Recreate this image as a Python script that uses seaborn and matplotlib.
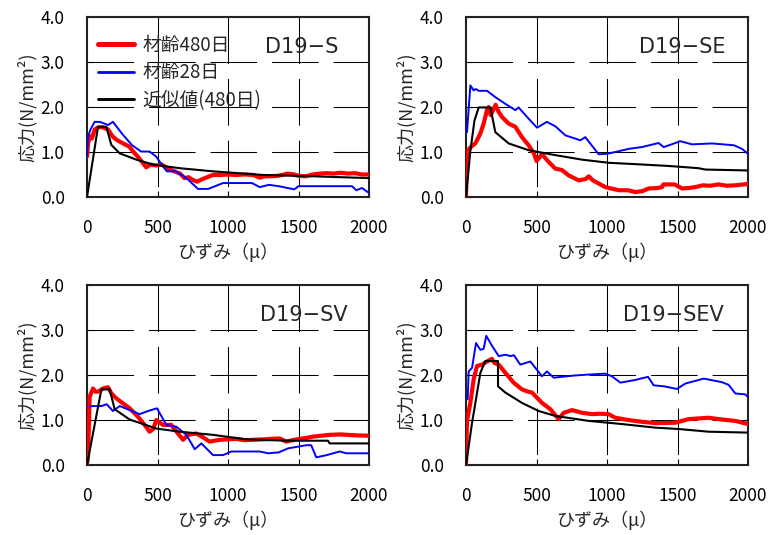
import matplotlib
matplotlib.use("Agg")
import matplotlib.pyplot as plt
import pandas as pd
import seaborn as sns

sns.set_theme(style="white")
plt.rcParams["font.family"] = ["Noto Sans CJK JP", "DejaVu Sans"]

# ---- strain (μ) / stress (N/mm²) series for each specimen ----
# D19-S
s_red_x = [0, 8, 20, 35, 55, 80, 110, 150, 180, 210, 250, 300, 330, 360, 390, 420, 450, 490, 530, 580,
           620, 660, 690, 720, 750, 780, 820, 860, 895, 950, 1000, 1060, 1120, 1180, 1225, 1260, 1300,
           1350, 1400, 1420, 1470, 1500, 1550, 1600, 1650, 1700, 1750, 1800, 1850, 1900, 1950, 2000]
s_red_y = [0.9, 1.2, 1.35, 1.3, 1.5, 1.55, 1.55, 1.5, 1.35, 1.27, 1.2, 1.12, 1.0, 0.9, 0.78, 0.66, 0.72,
           0.7, 0.72, 0.62, 0.57, 0.52, 0.42, 0.44, 0.38, 0.34, 0.4, 0.45, 0.49, 0.49, 0.5, 0.49, 0.5,
           0.49, 0.43, 0.46, 0.46, 0.47, 0.5, 0.52, 0.5, 0.47, 0.46, 0.5, 0.52, 0.53, 0.52, 0.54, 0.52,
           0.53, 0.5, 0.5]
s_blue_x = [0, 7, 25, 54, 90, 150, 184, 250, 320, 384, 444, 490, 530, 566, 630, 705, 787, 860, 965,
            1170, 1225, 1290, 1360, 1470, 1500, 1880, 1910, 1950, 2000]
s_blue_y = [0.9, 1.34, 1.5, 1.67, 1.67, 1.6, 1.67, 1.4, 1.15, 1.01, 1.01, 0.9, 0.72, 0.57, 0.57, 0.42,
            0.18, 0.18, 0.31, 0.31, 0.22, 0.27, 0.24, 0.17, 0.24, 0.24, 0.15, 0.2, 0.09]
s_black_x = [0, 78, 137, 172, 232, 350, 468, 657, 894, 1248, 1603, 2000]
s_black_y = [0, 1.56, 1.56, 1.16, 0.97, 0.83, 0.72, 0.64, 0.57, 0.49, 0.46, 0.42]

# D19-SE
se_red_x = [0, 7, 30, 66, 102, 125, 149, 161, 175, 195, 210, 230, 255, 303, 350, 397, 444, 480, 500,
            539, 586, 634, 680, 728, 799, 850, 870, 900, 988, 1083, 1150, 1201, 1250, 1296, 1360, 1390,
            1400, 1480, 1532, 1580, 1626, 1680, 1730, 1792, 1850, 1910, 2000]
se_red_y = [0, 1.0, 1.1, 1.19, 1.41, 1.63, 1.93, 2.0, 1.82, 1.95, 2.05, 1.9, 1.78, 1.63, 1.56, 1.33,
            1.15, 0.98, 0.8, 0.95, 0.78, 0.63, 0.6, 0.48, 0.37, 0.4, 0.46, 0.37, 0.22, 0.15, 0.15, 0.11,
            0.13, 0.19, 0.2, 0.22, 0.28, 0.28, 0.19, 0.2, 0.22, 0.26, 0.25, 0.28, 0.25, 0.26, 0.29]
se_blue_x = [7, 31, 54, 70, 90, 149, 208, 279, 350, 373, 444, 504, 574, 634, 705, 811, 846, 941, 1000,
             1059, 1154, 1248, 1366, 1402, 1440, 1520, 1603, 1745, 1900, 1957, 2000]
se_blue_y = [1.44, 2.48, 2.37, 2.4, 2.36, 2.36, 2.22, 2.07, 1.93, 1.99, 1.74, 1.54, 1.67, 1.57, 1.37,
             1.26, 1.33, 0.95, 0.96, 1.0, 1.07, 1.11, 1.2, 1.11, 1.15, 1.24, 1.17, 1.19, 1.15, 1.07, 0.96]
se_black_x = [0, 30, 60, 90, 173, 208, 303, 444, 634, 823, 1012, 1201, 1437, 1650, 1697, 2000]
se_black_y = [0, 1.0, 1.7, 1.99, 1.99, 1.44, 1.19, 1.04, 0.93, 0.83, 0.76, 0.73, 0.69, 0.64, 0.61, 0.59]

# D19-SV
sv_red_x = [0, 8, 19, 43, 60, 78, 113, 149, 173, 208, 255, 303, 362, 409, 444, 470, 492, 539, 598, 645,
            681, 716, 775, 820, 870, 941, 1000, 1060, 1120, 1177, 1250, 1300, 1366, 1414, 1485, 1550,
            1603, 1660, 1721, 1800, 1900, 2000]
sv_red_y = [0, 0.25, 1.52, 1.7, 1.63, 1.63, 1.7, 1.73, 1.59, 1.48, 1.37, 1.26, 1.07, 0.89, 0.74, 0.8,
            1.0, 0.89, 0.89, 0.7, 0.56, 0.67, 0.7, 0.62, 0.52, 0.56, 0.57, 0.58, 0.55, 0.56, 0.57, 0.58,
            0.59, 0.52, 0.57, 0.6, 0.63, 0.65, 0.67, 0.68, 0.66, 0.65]
sv_blue_x = [19, 43, 102, 140, 184, 232, 303, 374, 433, 496, 563, 634, 705, 764, 811, 894, 965, 1024,
             1225, 1284, 1360, 1426, 1556, 1590, 1626, 1700, 1792, 1840, 2000]
sv_blue_y = [1.3, 1.31, 1.31, 1.35, 1.2, 1.31, 1.22, 1.13, 1.2, 1.26, 0.89, 0.85, 0.67, 0.35, 0.48,
             0.22, 0.22, 0.3, 0.3, 0.26, 0.28, 0.37, 0.44, 0.44, 0.17, 0.22, 0.3, 0.26, 0.26]
sv_black_x = [0, 102, 161, 196, 303, 492, 657, 894, 1130, 1414, 1709, 1721, 2000]
sv_black_y = [0, 1.68, 1.68, 1.24, 1.01, 0.81, 0.74, 0.67, 0.57, 0.54, 0.54, 0.48, 0.48]

# D19-SEV
sev_red_x = [0, 7, 31, 54, 78, 113, 149, 184, 200, 232, 279, 338, 397, 440, 468, 539, 598, 657, 693,
             752, 823, 894, 950, 1012, 1059, 1150, 1248, 1343, 1485, 1579, 1721, 1816, 1910, 2000]
sev_red_y = [0, 0.98, 1.38, 1.9, 2.2, 2.23, 2.3, 2.36, 2.27, 2.23, 2.05, 1.83, 1.68, 1.63, 1.61, 1.38,
             1.24, 1.02, 1.16, 1.22, 1.16, 1.13, 1.14, 1.13, 1.05, 1.0, 0.96, 0.93, 0.94, 1.02, 1.05,
             1.01, 0.98, 0.91]
sev_blue_x = [12, 19, 43, 71, 102, 125, 144, 184, 232, 279, 315, 340, 385, 456, 492, 539, 574, 622,
              681, 775, 870, 988, 1035, 1095, 1201, 1291, 1331, 1402, 1496, 1556, 1686, 1816, 1863,
              1910, 1980, 2000]
sev_blue_y = [1.46, 2.08, 2.16, 2.71, 2.56, 2.58, 2.87, 2.65, 2.42, 2.45, 2.42, 2.44, 2.23, 2.3, 2.16,
              1.97, 2.08, 1.94, 1.96, 1.99, 2.01, 2.03, 1.97, 1.83, 1.89, 1.96, 1.77, 1.75, 1.69, 1.81,
              1.92, 1.84, 1.78, 1.59, 1.57, 1.51]
sev_black_x = [0, 43, 102, 137, 227, 227, 279, 397, 515, 634, 870, 1106, 1343, 1508, 1721, 2000]
sev_black_y = [0, 0.94, 2.05, 2.31, 2.31, 1.75, 1.61, 1.38, 1.2, 1.09, 0.98, 0.91, 0.83, 0.8, 0.74, 0.72]

series_names = ["材齢480日", "材齢28日", "近似値(480日)"]
panel_titles = ["D19−S", "D19−SE", "D19−SV", "D19−SEV"]
x_ticks = [0, 500, 1000, 1500, 2000]
y_ticks = [0.0, 1.0, 2.0, 3.0, 4.0]
x_max, y_max = 2000, 4.0

panels = [
    (s_red_x, s_red_y, s_blue_x, s_blue_y, s_black_x, s_black_y),
    (se_red_x, se_red_y, se_blue_x, se_blue_y, se_black_x, se_black_y),
    (sv_red_x, sv_red_y, sv_blue_x, sv_blue_y, sv_black_x, sv_black_y),
    (sev_red_x, sev_red_y, sev_blue_x, sev_blue_y, sev_black_x, sev_black_y),
]

W, H = 784, 535
fig = plt.figure(figsize=(W / 100, H / 100), dpi=100)
fig.patch.set_facecolor("white")

# axes boxes in pixels: left, top, width, height
boxes = [(87, 17, 282, 180), (466, 17, 282, 180), (87, 285, 282, 180), (466, 285, 282, 180)]
title_x = [0.89, 0.92, 0.925, 0.915]

styles = [("#ff0000", 3.0), ("#0000ff", 1.4), ("#000000", 1.5)]

grid_lw = 0.75
grid_dash = (0, (33.5 / grid_lw, 10.8 / grid_lw))

for i, (box, data) in enumerate(zip(boxes, panels)):
    l, t, w, h = box
    ax = fig.add_axes([l / W, (H - t - h) / H, w / W, h / H])
    ax.set_xlim(0, x_max)
    ax.set_ylim(0, y_max)

    # long-dash grid: horizontal dashes start at the left edge, vertical at the top edge
    ax.hlines(y_ticks[1:-1], 0, x_max, colors="black", lw=grid_lw, linestyles=[grid_dash], zorder=1)
    ax.vlines(x_ticks[1:-1], y_max, 0, colors="black", lw=grid_lw, linestyles=[grid_dash], zorder=1)

    for k in range(3):
        xs, ys = data[2 * k], data[2 * k + 1]
        df = pd.DataFrame({"x": xs, "y": ys})
        color, lw = styles[k]
        sns.lineplot(data=df, x="x", y="y", ax=ax, color=color, lw=lw,
                     estimator=None, sort=False,
                     label=series_names[k] if i == 0 else None, zorder=3 + k)
    ax.set_xlim(0, x_max)
    ax.set_ylim(0, y_max)
    ax.set_xticks(x_ticks)
    ax.set_yticks(y_ticks)
    ax.set_yticklabels([f"{v:.1f}" for v in y_ticks])
    ax.tick_params(direction="in", length=4, width=0.8, pad=16, labelsize=12.5,
                   colors="black", bottom=True, left=True)
    ax.grid(False)
    for sp in ax.spines.values():
        sp.set_color("#222222")
        sp.set_linewidth(1.5)
    ax.set_xlabel("ひずみ（μ）", fontsize=13, labelpad=4)
    ax.set_ylabel("応力(N/mm²)", fontsize=13, labelpad=3)
    ax.text(title_x[i], 0.835, panel_titles[i], transform=ax.transAxes,
            ha="right", va="center", fontsize=15, family="DejaVu Sans")
    if i == 0:
        leg = ax.legend(loc="upper left", bbox_to_anchor=(0.0, 0.965), frameon=False,
                        fontsize=13.5, handlelength=1.9, handletextpad=0.45,
                        labelspacing=0.35, borderaxespad=0.2)
        for line in leg.get_lines():
            line.set_linewidth(line.get_linewidth() + 0.6)
    else:
        lg = ax.get_legend()
        if lg is not None:
            lg.remove()

fig.savefig("out.png", dpi=100, facecolor="white")
